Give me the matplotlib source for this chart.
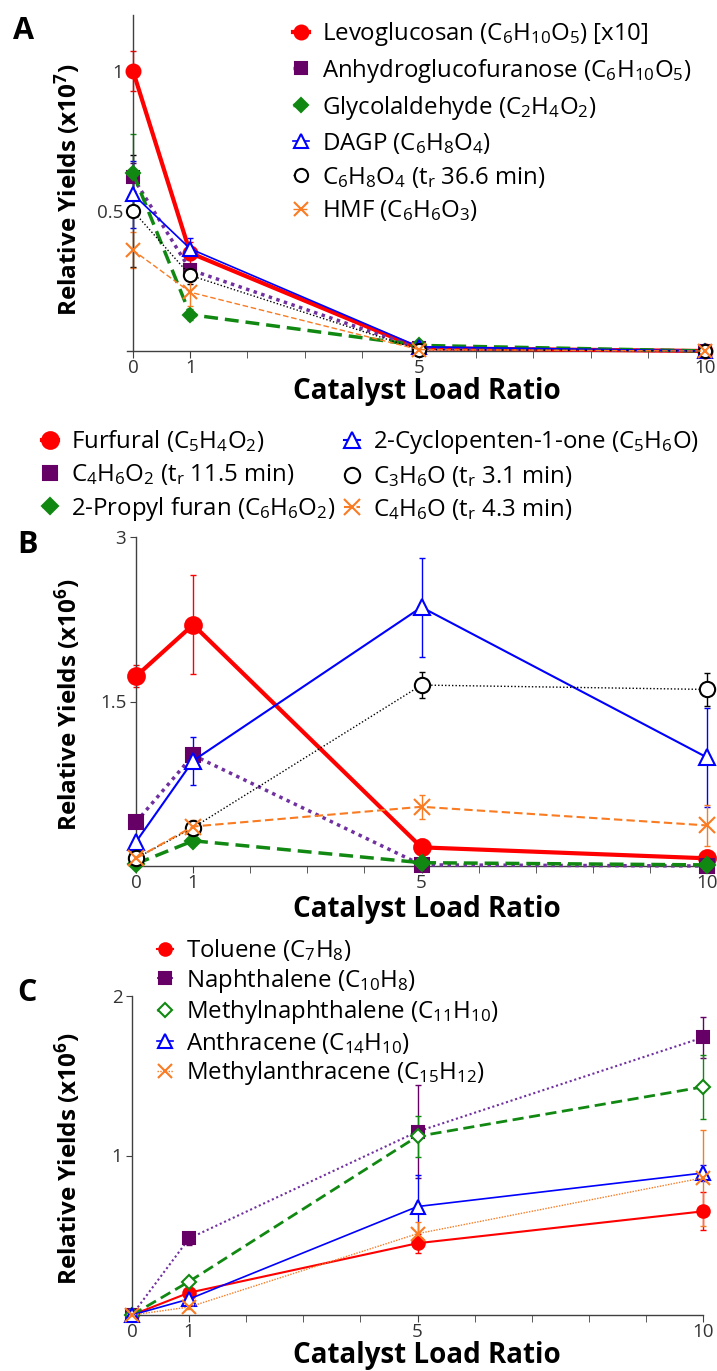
import matplotlib
matplotlib.use('Agg')
import matplotlib.pyplot as plt

plt.rcParams['font.family'] = ['Open Sans', 'DejaVu Sans']
plt.rcParams['mathtext.fontset'] = 'custom'
plt.rcParams['mathtext.rm'] = 'Open Sans'
plt.rcParams['mathtext.it'] = 'Open Sans:italic'
plt.rcParams['mathtext.bf'] = 'Open Sans:bold'
plt.rcParams['mathtext.default'] = 'regular'

# catalyst load ratios
x = [0, 1, 5, 10]

# panel A (x10^7)
levo = [1.00, 0.35, 0.01, 0.0]
levo_err = [0.07, 0.04, 0.005, 0.0]
anhydro = [0.62, 0.29, 0.01, 0.0]
anhydro_err = [0.05, 0.02, 0.0, 0.0]
glyco = [0.635, 0.13, 0.02, 0.0]
glyco_err = [0.14, 0.02, 0.0, 0.0]
dagp = [0.56, 0.365, 0.015, 0.0]
dagp_err = [0.12, 0.04, 0.0, 0.0]
c6h8o4 = [0.50, 0.27, 0.005, 0.0]
c6h8o4_err = [0.2, 0.03, 0.0, 0.0]
hmf = [0.36, 0.21, 0.005, 0.0]
hmf_err = [0.065, 0.05, 0.0, 0.0]

# panel B (x10^6)
furfural = [1.73, 2.20, 0.17, 0.07]
furfural_err = [0.1, 0.45, 0.08, 0.03]
c4h6o2 = [0.40, 1.01, 0.01, 0.0]
c4h6o2_err = [0.02, 0.05, 0.0, 0.0]
propylfuran = [0.02, 0.23, 0.03, 0.01]
propylfuran_err = [0.01, 0.03, 0.01, 0.0]
cyclopentenone = [0.22, 0.96, 2.36, 0.99]
cyclopentenone_err = [0.03, 0.22, 0.45, 0.45]
c3h6o = [0.07, 0.35, 1.65, 1.61]
c3h6o_err = [0.02, 0.03, 0.12, 0.15]
c4h6o = [0.07, 0.36, 0.54, 0.37]
c4h6o_err = [0.02, 0.06, 0.11, 0.19]

# panel C (x10^6)
toluene = [0.0, 0.14, 0.45, 0.65]
toluene_err = [0.0, 0.02, 0.06, 0.12]
naph = [0.0, 0.48, 1.15, 1.74]
naph_err = [0.0, 0.04, 0.29, 0.13]
methylnaph = [0.0, 0.21, 1.12, 1.43]
methylnaph_err = [0.0, 0.02, 0.13, 0.2]
anthracene = [0.0, 0.10, 0.68, 0.89]
anthracene_err = [0.0, 0.01, 0.2, 0.05]
methylanth = [0.0, 0.05, 0.51, 0.86]
methylanth_err = [0.0, 0.01, 0.07, 0.3]

RED = '#FF0000'
PURPLE = '#660066'
PURPLE_LINE = '#7030A0'
GREEN = '#118811'
BLUE = '#0000FF'
ORANGE = '#F97B22'
AXCOL = '#404040'
LEGFS = 17.3

W, H = 717, 1371
fig = plt.figure(figsize=(W / 100, H / 100), dpi=100)


def make_axes(x0px, x10px, y0px, ytoppx, ymax):
    unit = (x10px - x0px) / 10.0
    leftpx = x0px - 0.1 * unit
    ax = fig.add_axes([leftpx / W, (H - y0px) / H, (x10px - leftpx) / W, (y0px - ytoppx) / H])
    ax.set_xlim(-0.1, 10)
    ax.set_ylim(0, ymax)
    ax.spines['top'].set_visible(False)
    ax.spines['right'].set_visible(False)
    ax.spines['left'].set_position(('data', 0))
    for s in ['left', 'bottom']:
        ax.spines[s].set_color(AXCOL)
        ax.spines[s].set_linewidth(1.0)
    ax.set_xticks([0, 1, 5, 10])
    ax.set_xticks([2, 3, 4, 6, 7, 8, 9], minor=True)
    ax.tick_params(axis='x', which='both', direction='out', length=5, color=AXCOL,
                   labelsize=13.5, labelcolor='#333333', pad=1)
    ax.tick_params(axis='y', direction='out', length=4, color=AXCOL, labelsize=13.5,
                   labelcolor='#333333', pad=3)
    ax.set_facecolor('none')
    return ax


def series(ax, y, err, color, ls, lw, marker, ms, filled=True, mew=1.5, lcolor=None):
    ax.errorbar(x, y, yerr=err, fmt='none', ecolor=color, elinewidth=1.0,
                capsize=2, capthick=1.0, clip_on=False, zorder=2)
    ln, = ax.plot(x, y, color=lcolor or color, ls=ls, lw=lw, marker=marker, ms=ms,
                  mfc=color if filled else 'white', mec=color, mew=mew, clip_on=False, zorder=3)
    return ln


def xlabel(ybase):
    fig.text(427 / W, 1 - ybase / H, 'Catalyst Load Ratio', ha='center', va='baseline',
             fontsize=20, fontweight='bold')


def ylabel(ypx, exp):
    fig.text(68 / W, 1 - ypx / H, r'Relative Yields (x10$^{\mathbf{%s}}$)' % exp,
             ha='center', va='center', rotation=90, fontsize=17.5, fontweight='bold')


def legend(handles, labels, xpx, ypx, spacing, ncol=1):
    fig.legend(handles, labels, loc='upper left', bbox_to_anchor=(xpx / W, 1 - ypx / H),
               ncol=ncol, frameon=False, fontsize=LEGFS, handlelength=0.65, handletextpad=0.55,
               labelspacing=spacing, columnspacing=0.37, borderpad=0, borderaxespad=0)


# ---------- panel A ----------
axA = make_axes(133, 705, 351, 15, 1.2)
axA.set_yticks([0.5, 1])
axA.set_yticklabels(['0.5', '1'])
hA = [
    series(axA, levo, levo_err, RED, '-', 3.0, 'o', 10),
    series(axA, anhydro, anhydro_err, PURPLE, (0, (1, 1.3)), 2.5, 's', 9, lcolor=PURPLE_LINE),
    series(axA, glyco, glyco_err, GREEN, (0, (4, 2)), 2.5, 'D', 7),
    series(axA, dagp, dagp_err, BLUE, '-', 1.2, '^', 10, filled=False),
    series(axA, c6h8o4, c6h8o4_err, 'black', (0, (1, 1.5)), 1.0, 'o', 9.5, filled=False),
    series(axA, hmf, hmf_err, ORANGE, (0, (4, 2)), 1.0, 'x', 10),
]
labA = [r'Levoglucosan (C$_6$H$_{10}$O$_5$) [x10]',
        r'Anhydroglucofuranose (C$_6$H$_{10}$O$_5$)',
        r'Glycolaldehyde (C$_2$H$_4$O$_2$)',
        r'DAGP (C$_6$H$_8$O$_4$)',
        r'C$_6$H$_8$O$_4$ (t$_r$ 36.6 min)',
        r'HMF (C$_6$H$_6$O$_3$)']
legend(hA, labA, 293, 20, 0.37)
xlabel(399)
ylabel(190, '7')
fig.text(24 / W, 1 - 31 / H, 'A', ha='center', va='center', fontsize=22, fontweight='bold')

# ---------- panel B ----------
axB = make_axes(136, 707, 866, 537, 3.0)
axB.set_yticks([1.5, 3])
axB.set_yticklabels(['1.5', '3'])
hB = [
    series(axB, furfural, furfural_err, RED, '-', 3.0, 'o', 12),
    series(axB, c4h6o2, c4h6o2_err, PURPLE, (0, (1, 1.3)), 2.5, 's', 9.5, lcolor=PURPLE_LINE),
    series(axB, propylfuran, propylfuran_err, GREEN, (0, (4, 2)), 2.5, 'D', 8),
    series(axB, cyclopentenone, cyclopentenone_err, BLUE, '-', 1.5, '^', 12, filled=False),
    series(axB, c3h6o, c3h6o_err, 'black', (0, (1, 1.5)), 1.0, 'o', 11, filled=False),
    series(axB, c4h6o, c4h6o_err, ORANGE, (0, (4, 2)), 1.5, 'x', 11),
]
labB = [r'Furfural (C$_5$H$_4$O$_2$)',
        r'C$_4$H$_6$O$_2$ (t$_r$ 11.5 min)',
        r'2-Propyl furan (C$_6$H$_6$O$_2$)',
        r'2-Cyclopenten-1-one (C$_5$H$_6$O)',
        r'C$_3$H$_6$O (t$_r$ 3.1 min)',
        r'C$_4$H$_6$O (t$_r$ 4.3 min)']
legend(hB, labB, 42, 428, 0.33, ncol=2)
xlabel(917)
ylabel(705, '6')
fig.text(27 / W, 1 - 545 / H, 'B', ha='center', va='center', fontsize=22, fontweight='bold')

# ---------- panel C ----------
axC = make_axes(132, 703, 1315, 996, 2.0)
axC.set_yticks([1, 2])
axC.set_yticklabels(['1', '2'])
hC = [
    series(axC, toluene, toluene_err, RED, '-', 1.5, 'o', 9),
    series(axC, naph, naph_err, PURPLE, (0, (1, 1.3)), 1.5, 's', 9, lcolor=PURPLE_LINE),
    series(axC, methylnaph, methylnaph_err, GREEN, (0, (4, 2)), 2.0, 'D', 7, filled=False),
    series(axC, anthracene, anthracene_err, BLUE, '-', 1.2, '^', 10, filled=False),
    series(axC, methylanth, methylanth_err, ORANGE, (0, (1, 1)), 1.0, 'x', 10),
]
labC = [r'Toluene (C$_7$H$_8$)',
        r'Naphthalene (C$_{10}$H$_8$)',
        r'Methylnaphthalene (C$_{11}$H$_{10}$)',
        r'Anthracene (C$_{14}$H$_{10}$)',
        r'Methylanthracene (C$_{15}$H$_{12}$)']
legend(hC, labC, 157, 937, 0.15)
xlabel(1363)
ylabel(1159, '6')
fig.text(27 / W, 1 - 993 / H, 'C', ha='center', va='center', fontsize=22, fontweight='bold')

fig.savefig('out.png', dpi=100)
